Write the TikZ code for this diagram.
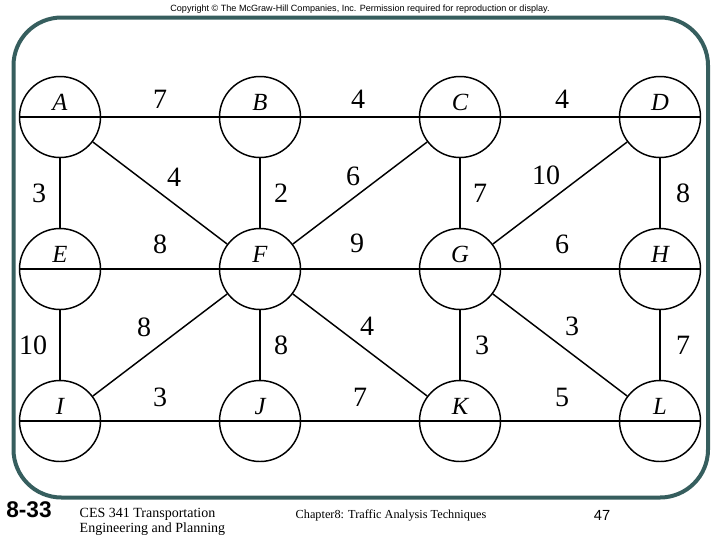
\documentclass[tikz,border=0pt]{standalone}
\usepackage{fontspec}
\setmainfont{Liberation Serif}
\newfontfamily\arialfont{Liberation Sans}
\definecolor{framecol}{RGB}{54,94,94}

\begin{document}
\begin{tikzpicture}[x=0.75pt, y=-0.75pt, line width=1.1pt,
  stn/.style={circle, draw, minimum size=60.75pt, inner sep=0pt},
  nm/.style={yshift=10.9pt, font=\fontsize{18.5}{18.5}\selectfont\itshape},
  wt/.style={font=\fontsize{21}{21}\selectfont, inner sep=1pt}]
\useasboundingbox (0,0) rectangle (720,540);

\node[font=\arialfont\fontsize{6.8}{7}\selectfont] (copy) at (360,9) {Copyright © The McGraw-Hill Companies, Inc. Permission required for reproduction or display.};
\draw[framecol, line width=3pt, rounded corners=36pt] (13.5,17.5) rectangle (708,497.5);

\node[stn, label={[nm]center:A}] (A) at (60,117) {};
\node[stn, label={[nm]center:B}] (B) at (260,117) {};
\node[stn, label={[nm]center:C}] (C) at (460,117) {};
\node[stn, label={[nm]center:D}] (D) at (660,117) {};
\node[stn, label={[nm]center:E}] (E) at (60,269) {};
\node[stn, label={[nm]center:F}] (F) at (260,269) {};
\node[stn, label={[nm]center:G}] (G) at (460,269) {};
\node[stn, label={[nm]center:H}] (H) at (660,269) {};
\node[stn, label={[nm]center:I}] (I) at (60,421) {};
\node[stn, label={[nm]center:J}] (J) at (260,421) {};
\node[stn, label={[nm]center:K}] (K) at (460,421) {};
\node[stn, label={[nm]center:L}] (L) at (660,421) {};

% rows
\draw (A.west) -- (A.center) -- node[wt, yshift=13.5pt] {7} (B.center) -- node[wt, yshift=13.5pt, xshift=-1.5pt] {4} (C.center) -- node[wt, yshift=13.5pt, xshift=1.5pt] {4} (D.center) -- (D.east);
\draw (E.west) -- (E.center) -- node[wt, yshift=18.4pt] {8} (F.center) -- node[wt, yshift=19.5pt, xshift=-2.25pt] {9} (G.center) -- node[wt, yshift=18.4pt, xshift=1.5pt] {6} (H.center) -- (H.east);
\draw (I.west) -- (I.center) -- node[wt, yshift=18pt] {3} (J.center) -- node[wt, yshift=18pt] {7} (K.center) -- node[wt, yshift=18pt, xshift=1.5pt] {5} (L.center) -- (L.east);

% columns
\draw (A) -- node[wt, xshift=-15.75pt] {3} (E);
\draw (E) -- node[wt, xshift=-20.25pt] {10} (I);
\draw (B) -- node[wt, xshift=15.75pt] {2} (F);
\draw (F) -- node[wt, xshift=15.75pt] {8} (J);
\draw (C) -- node[wt, xshift=15pt] {7} (G);
\draw (G) -- node[wt, xshift=16.5pt] {3} (K);
\draw (D) -- node[wt, xshift=17.25pt] {8} (H);
\draw (H) -- node[wt, xshift=17.25pt] {7} (L);

% diagonals
\draw (A) -- node[wt, xshift=10.5pt, yshift=12pt] {4} (F);
\draw (C) -- node[wt, xshift=-5.25pt, yshift=12.75pt] {6} (F);
\draw (D) -- node[wt, xshift=-10.5pt, yshift=13.5pt] {10} (G);
\draw (F) -- node[wt, xshift=-12pt, yshift=13.5pt] {8} (I);
\draw (F) -- node[wt, xshift=5.25pt, yshift=14.25pt] {4} (K);
\draw (G) -- node[wt, xshift=9pt, yshift=14.25pt] {3} (L);

% footer
\node[font=\arialfont\bfseries\fontsize{17}{17}\selectfont] (num) at (29,510) {8-33};
\node[anchor=west, align=left, inner sep=0pt, font=\fontsize{10.5}{11}\selectfont] (course) at (79,522) {CES 341 Transportation\\Engineering and Planning};
\node[anchor=west, inner sep=0pt, font=\fontsize{9.2}{10}\selectfont] (chap) at (295,515) {Chapter8: Traffic Analysis Techniques};
\node[font=\arialfont\fontsize{11}{11}\selectfont] (page) at (602,515) {47};
\end{tikzpicture}
\end{document}
